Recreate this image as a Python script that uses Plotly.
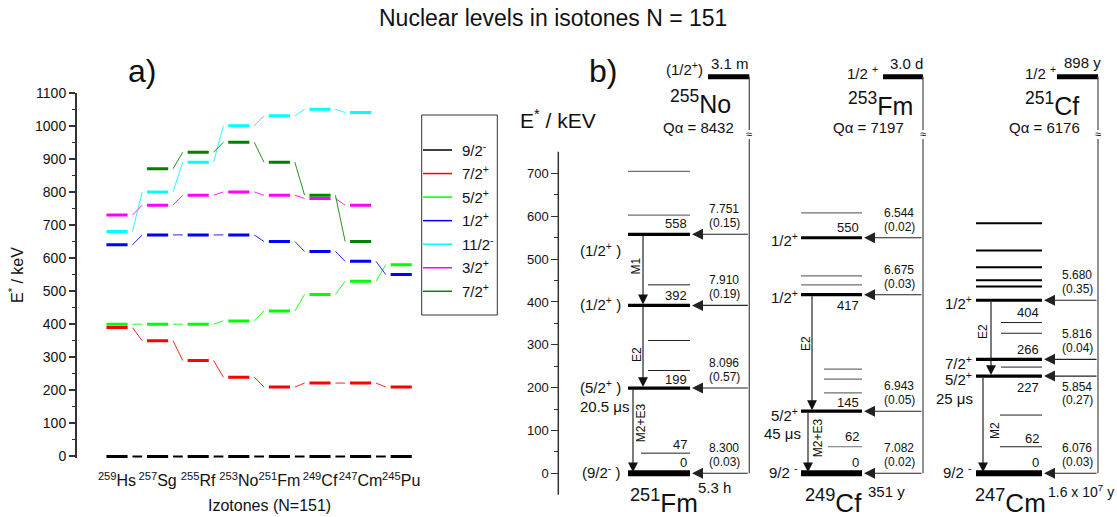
import plotly.graph_objects as go

W, H = 1117, 517
FONT = "Liberation Sans, Arial, sans-serif"
INK = "#111111"

# ---------------- panel a: systematics of N = 151 isotones ----------------
isotones = ["Hs", "Sg", "Rf", "No", "Fm", "Cf", "Cm", "Pu"]
mass_numbers = [259, 257, 255, 253, 251, 249, 247, 245]
tick_labels = [f"<sup>{a}</sup>{s}" for a, s in zip(mass_numbers, isotones)]

state_names = ["9/2<sup>-</sup>", "7/2<sup>+</sup>", "5/2<sup>+</sup>", "1/2<sup>+</sup>",
               "11/2<sup>-</sup>", "3/2<sup>+</sup>", "7/2<sup>+</sup>"]
state_colors = ["#000000", "#ff0000", "#00ff00", "#0000ff", "#00ffff", "#ff00ff", "#008000"]

E_9_2m = [0, 0, 0, 0, 0, 0, 0, 0]
E_7_2p = [390, 350, 290, 240, 210, 222, 222, 210]
E_5_2p = [400, 400, 400, 410, 440, 490, 530, 580]
E_1_2p = [640, 670, 670, 670, 650, 620, 590, 550]
E_11_2m = [680, 800, 890, 1000, 1030, 1050, 1040, None]
E_3_2p = [730, 760, 790, 800, 790, 780, 760, None]
E_7_2p_b = [None, 870, 920, 950, 890, 790, 650, None]
state_energies = [E_9_2m, E_7_2p, E_5_2p, E_1_2p, E_11_2m, E_3_2p, E_7_2p_b]

# ---------------- panel b: alpha-decay level schemes ----------------
# 255No -> 251Fm
fm_ground = [0]
fm_thick = [199, 392, 558]
fm_thin = [47, 240, 310, 440]
fm_thin_gray = [603, 705]
fm_alpha_E = [558, 392, 199, 0]
fm_alpha_energy = ["7.751", "7.910", "8.096", "8.300"]
fm_alpha_int = ["(0.15)", "(0.19)", "(0.57)", "(0.03)"]
fm_gammas = [(558, 392, "M1"), (392, 199, "E2"), (199, 0, "M2+E3")]
fm_labels = [558, 392, 199, 47, 0]

# 253Fm -> 249Cf
cf_ground = [0]
cf_thick = [145, 417, 550]
cf_thin_gray = [62, 188, 220, 243, 440, 461, 608]
cf_alpha_E = [550, 417, 145, 0]
cf_alpha_energy = ["6.544", "6.675", "6.943", "7.082"]
cf_alpha_int = ["(0.02)", "(0.03)", "(0.05)", "(0.02)"]
cf_gammas = [(417, 145, "E2"), (145, 0, "M2+E3")]
cf_labels = [550, 417, 145, 62, 0]

# 251Cf -> 247Cm
cm_ground = [0]
cm_thick = [227, 266, 404]
cm_mid = [436, 451, 481, 520, 584]
cm_thin = [62, 136, 248, 327, 352]
cm_alpha_E = [404, 266, 227, 0]
cm_alpha_energy = ["5.680", "5.816", "5.854", "6.076"]
cm_alpha_int = ["(0.35)", "(0.04)", "(0.27)", "(0.03)"]
cm_gammas = [(404, 227, "E2"), (227, 0, "M2")]
cm_labels = [404, 266, 227, 62, 0]

fig = go.Figure()


def px(x):
    return x / W


def py(y):
    return 1 - y / H


def text(x, y, s, size=13, xanchor="center", yanchor="middle", angle=0, color=INK, **kw):
    fig.add_annotation(x=px(x), y=py(y), xref="paper", yref="paper", text=s, showarrow=False,
                       xanchor=xanchor, yanchor=yanchor, textangle=angle,
                       font=dict(family=FONT, size=size, color=color), **kw)


# ---------- panel a geometry ----------
XA0, XA1 = 76, 500
CAT0, CAT_STEP = 117, 40.6
SA, ZA = 0.33073, 456.5          # px per keV and px of 0 keV
ya_range = [-6, 1100]
ya_dom = [(H - (ZA - ya_range[0] * SA)) / H, (H - (ZA - ya_range[1] * SA)) / H]
HALF, GAP = 0.26, 0.12

for name, col, E in zip(state_names, state_colors, state_energies):
    cx, cy = [], []
    for i in range(len(E) - 1):
        if E[i] is None or E[i + 1] is None:
            continue
        cx += [i + HALF + GAP, i + 1 - HALF - GAP, None]
        cy += [E[i], E[i + 1], None]
    fig.add_trace(go.Scatter(x=cx, y=cy, mode="lines", xaxis="x", yaxis="y",
                             line=dict(color=col, width=2 if col == "#000000" else 1),
                             opacity=1 if col == "#000000" else 0.85,
                             showlegend=False, hoverinfo="skip"))
for name, col, E in zip(state_names, state_colors, state_energies):
    lx, ly = [], []
    for i, e in enumerate(E):
        if e is None:
            continue
        lx += [i - HALF, i + HALF, None]
        ly += [e, e, None]
    fig.add_trace(go.Scatter(x=lx, y=ly, mode="lines", xaxis="x", yaxis="y",
                             line=dict(color=col, width=3), name=name,
                             showlegend=False, hoverinfo="skip"))

# hand-placed key for panel a
LEG_X0, LEG_X1, LEG_Y0, LEG_Y1 = 421.7, 497.3, 115, 315
fig.add_shape(type="rect", xref="paper", yref="paper", x0=px(LEG_X0), x1=px(LEG_X1),
              y0=py(LEG_Y1), y1=py(LEG_Y0), line=dict(color="#333333", width=1))
for k, (name, col) in enumerate(zip(state_names, state_colors)):
    yy = 150 + 23.55 * k
    fig.add_shape(type="line", xref="paper", yref="paper", x0=px(423), x1=px(452),
                  y0=py(yy), y1=py(yy), line=dict(color=col, width=1.5))
    text(460, yy - 1, name, size=15, xanchor="left")

text(142, 71, "a)", size=32)
text(16, 275, "E<sup>*</sup> / keV", size=16, angle=-90)
text(269, 505, "Izotones (N=151)", size=16)

# ---------- panel b geometry ----------
SB, ZB = 0.4283, 473.3           # px per keV and px of 0 keV
yb_range = [-60, 1000]
yb_dom = [(H - (ZB - yb_range[0] * SB)) / H, (H - (ZB - yb_range[1] * SB)) / H]
PARENT_ROW = (ZB - 76.8) / SB     # drawing height of the parent states
BREAK_TOP = (ZB - 130) / SB
BREAK_BOT = (ZB - 139) / SB
AXIS_X = 558.3

groups = {}


def seg(style, x0, x1, energies):
    gx, gy = groups.setdefault(style, ([], []))
    for e in energies:
        gx += [x0, x1, None]
        gy += [e, e, None]


columns = [
    dict(x0=628, x1=690, vline=749.3, bar0=708, ground=fm_ground, thick=fm_thick,
         alphaE=fm_alpha_E, aen=fm_alpha_energy, aint=fm_alpha_int, lab_x=724,
         gammas=fm_gammas, gx=[643, 643, 633], gl=[(-7, 483), (-6, 276), (8, 117)],
         labels=fm_labels, lab_shift={558: 11, 392: 10, 199: 9, 47: 9, 0: 11},
         a_shift={}),
    dict(x0=801, x1=862, vline=923, bar0=883, ground=cf_ground, thick=cf_thick,
         alphaE=cf_alpha_E, aen=cf_alpha_energy, aint=cf_alpha_int, lab_x=899,
         gammas=cf_gammas, gx=[812, 808], gl=[(-6, 302), (10, 82)],
         labels=cf_labels, lab_shift={550: 10, 417: -11, 145: 9, 62: 10, 0: 11},
         a_shift={}),
    dict(x0=976, x1=1042, vline=1098, bar0=1057, ground=cm_ground, thick=cm_thick,
         alphaE=cm_alpha_E, aen=cm_alpha_energy, aint=cm_alpha_int, lab_x=1077,
         gammas=cm_gammas, gx=[991, 983], gl=[(-8, 330), (12, 99)],
         labels=cm_labels, lab_shift={404: -12, 266: 10, 227: -11, 62: 8, 0: 11},
         a_shift={227: -1}),
]

seg("thin_gray", 628, 690, fm_thin_gray)
seg("thin", 641, 690, [47])
seg("thin", 648, 690, [e for e in fm_thin if e != 47])
seg("thin_gray", 828, 862, [62])
seg("thin_gray", 824, 862, [188, 220, 243])
seg("thin_gray", 801, 862, [440, 461, 608])
seg("mid", 976, 1042, cm_mid)
seg("thin", 1000, 1042, [62, 136])
seg("thin", 1001, 1042, [248, 327, 352])

for c in columns:
    seg("ground", c["x0"], c["x1"], c["ground"])
    seg("thick", c["x0"], c["x1"], c["thick"])
    seg("parent", c["bar0"], c["vline"], [PARENT_ROW])
    # feeding line of the parent state, broken by the scale gap
    gx, gy = groups.setdefault("vline", ([], []))
    gx += [c["vline"], c["vline"], None, c["vline"], c["vline"], None]
    gy += [PARENT_ROW, BREAK_TOP, None, BREAK_BOT, 0, None]
    text(c["vline"], 134, "≈", size=11)

styles = {
    "thin_gray": dict(color="#6f6f6f", width=1.2),
    "thin": dict(color="#222222", width=1),
    "mid": dict(color="#000000", width=2),
    "thick": dict(color="#000000", width=3.2),
    "ground": dict(color="#000000", width=6),
    "parent": dict(color="#000000", width=5),
    "vline": dict(color="#555555", width=1.3),
}
for style, (gx, gy) in groups.items():
    fig.add_trace(go.Scatter(x=gx, y=gy, mode="lines", xaxis="x2", yaxis="y2",
                             line=styles[style], showlegend=False, hoverinfo="skip"))

# axis line of panel b
fig.add_shape(type="line", xref="x2", yref="y2", x0=AXIS_X, x1=AXIS_X, y0=-50, y1=751,
              line=dict(color="#333333", width=1.5))

for c in columns:
    # alpha feeding arrows with energy (MeV) and intensity
    for e, en, it in zip(c["alphaE"], c["aen"], c["aint"]):
        fig.add_annotation(x=c["x1"] + 2, y=e, ax=c["vline"], ay=e, xref="x2", yref="y2",
                           axref="x2", ayref="y2", text="", showarrow=True, arrowhead=2,
                           arrowsize=2, arrowwidth=1.1, arrowcolor="#222222", standoff=0)
        if c["a_shift"].get(e, 1) > 0:
            s1, s2 = 25, 11
        else:
            s1, s2 = -11, -24
        fig.add_annotation(x=c["lab_x"], y=e, xref="x2", yref="y2", text=en, showarrow=False,
                           yshift=s1, font=dict(family=FONT, size=12, color=INK))
        fig.add_annotation(x=c["lab_x"], y=e, xref="x2", yref="y2", text=it, showarrow=False,
                           yshift=s2, font=dict(family=FONT, size=12, color=INK))
    # gamma transitions
    for (eu, el, lab), gxp, (dx, ly) in zip(c["gammas"], c["gx"], c["gl"]):
        fig.add_annotation(x=gxp, y=el, ax=gxp, ay=eu, xref="x2", yref="y2", axref="x2",
                           ayref="y2", text="", showarrow=True, arrowhead=2, arrowsize=1.8,
                           arrowwidth=1.1, arrowcolor="#111111", standoff=1)
        fig.add_annotation(x=gxp + dx, y=ly, xref="x2", yref="y2", text=lab, showarrow=False,
                           textangle=-90, font=dict(family=FONT, size=12, color=INK))
    # level energies
    for e in c["labels"]:
        fig.add_annotation(x=c["x1"] - 1, y=e, xref="x2", yref="y2", text=str(e),
                           showarrow=False, xanchor="right", yshift=c["lab_shift"][e],
                           font=dict(family=FONT, size=13, color=INK))


def spin(x, e, s, shift=0, size=15):
    fig.add_annotation(x=x, y=e, xref="x2", yref="y2", text=s, showarrow=False,
                       xanchor="right", yshift=shift, font=dict(family=FONT, size=size, color=INK))


def below(x, e, s, shift):
    fig.add_annotation(x=x, y=e, xref="x2", yref="y2", text=s, showarrow=False,
                       yshift=shift, font=dict(family=FONT, size=15, color=INK))


spin(623, 558, "(1/2<sup>+</sup> )", -15)
spin(623, 392, "(1/2<sup>+</sup> )", 2)
spin(623, 199, "(5/2<sup>+</sup> )", 2)
spin(623, 0, "(9/2<sup>-</sup> )", 2)
below(605, 199, "20.5 μs", -18)

spin(800, 550, "1/2<sup>+</sup>", -2)
spin(800, 417, "1/2<sup>+</sup>", -2)
spin(800, 145, "5/2<sup>+</sup>", -3)
spin(800, 0, "9/2 <sup>-</sup>", 2)
below(782, 145, "45 μs", -22)

spin(974, 404, "1/2<sup>+</sup>", -2)
spin(974, 266, "7/2<sup>+</sup>", -3)
spin(974, 227, "5/2<sup>+</sup>", -2)
spin(974, 0, "9/2 <sup>-</sup>", 2)
below(954, 227, "25 μs", -22)

# parent states, decay Q-values and daughter names
text(684, 69, "(1/2<sup>+</sup>)", size=15)
text(730, 64, "3.1 m", size=15)
text(700, 102, "<sup>255</sup>No", size=25)
text(698, 127, "Qα = 8432", size=15)
text(664, 501, "<sup>251</sup>Fm", size=26)
text(714, 487, "5.3 h", size=15)

text(862, 72, "1/2 <sup>+</sup>", size=15)
text(906, 64, "3.0 d", size=15)
text(880, 104, "<sup>253</sup>Fm", size=25)
text(868, 127, "Qα = 7197", size=15)
text(833, 501, "<sup>249</sup>Cf", size=26)
text(886, 491, "351 y", size=15)

text(1040, 72, "1/2 <sup>+</sup>", size=15)
text(1082, 63, "898 y", size=15)
text(1052, 104, "<sup>251</sup>Cf", size=25)
text(1044, 127, "Qα = 6176", size=15)
text(1010, 501, "<sup>247</sup>Cm", size=26)
text(1081, 491, "1.6 x 10<sup>7</sup> y", size=14)

text(603, 71, "b)", size=32)
text(558, 119, "E<sup>*</sup> / kEV", size=21)
text(553, 18, "Nuclear levels in isotones N = 151", size=23)

fig.update_layout(
    width=W, height=H, margin=dict(l=0, r=0, t=0, b=0, autoexpand=False),
    paper_bgcolor="white", plot_bgcolor="rgba(0,0,0,0)", showlegend=False,
    xaxis=dict(domain=[px(XA0), px(XA1)], range=[(XA0 - CAT0) / CAT_STEP, (XA1 - CAT0) / CAT_STEP],
               tickmode="array", tickvals=list(range(len(isotones))), ticktext=tick_labels,
               tickangle=0, automargin=False, ticklabelstandoff=11,
               showline=False, showgrid=False, zeroline=False, ticks="",
               tickfont=dict(family=FONT, size=16, color=INK), anchor="y"),
    yaxis=dict(domain=ya_dom, range=ya_range, anchor="free", position=px(XA0), automargin=False,
               tickmode="array", tickvals=list(range(0, 1101, 100)),
               showline=True, linewidth=2, linecolor="#333333", showgrid=False, zeroline=False,
               ticks="outside", ticklen=6, tickwidth=1.5, tickcolor="#333333",
               minor=dict(tickmode="array", tickvals=list(range(50, 1100, 100)),
                          ticks="outside", ticklen=3, tickwidth=1.2, tickcolor="#333333"),
               tickfont=dict(family=FONT, size=14, color=INK)),
    xaxis2=dict(domain=[0, 1], range=[0, W], visible=False, anchor="y2", automargin=False),
    yaxis2=dict(domain=yb_dom, range=yb_range, anchor="free", position=px(AXIS_X), automargin=False,
                tickmode="array", tickvals=list(range(0, 701, 100)),
                showline=False, showgrid=False, zeroline=False,
                ticks="outside", ticklen=7, tickwidth=1.2, tickcolor="#333333",
                minor=dict(tickmode="array", tickvals=list(range(50, 700, 100)),
                           ticks="outside", ticklen=4, tickwidth=1, tickcolor="#333333"),
                tickfont=dict(family=FONT, size=13, color=INK)),
)

fig.write_html("out.html")
